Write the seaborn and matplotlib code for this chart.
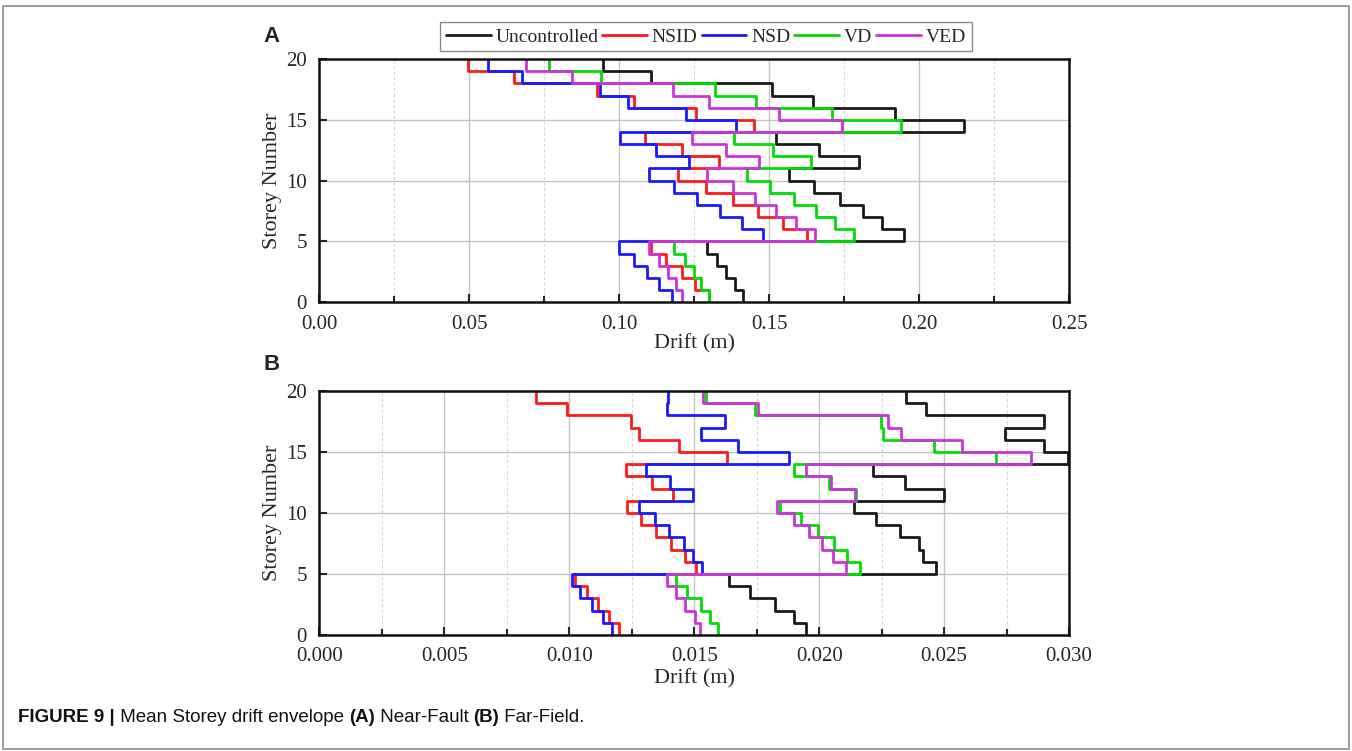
import matplotlib
matplotlib.use('Agg')
import matplotlib.pyplot as plt
import seaborn as sns
import numpy as np
import pandas as pd
from matplotlib.ticker import MultipleLocator, FormatStrFormatter
from matplotlib.patches import Rectangle

# storey numbers 1..20 (value of each storey drawn between storey-1 and storey)
storeys = np.arange(1, 21)
cases = ['Uncontrolled', 'NSID', 'NSD', 'VD', 'VED']
colors = ['#1a1a1a', '#ff1a1a', '#1a1aff', '#00dd00', '#cc33dd']

# Near-Fault drift (m), storey 1 -> 20
nf_uncontrolled = [0.1411, 0.1387, 0.1357, 0.1327, 0.1292, 0.1948, 0.1876, 0.1812, 0.1736, 0.1649,
                   0.1565, 0.1801, 0.1667, 0.1524, 0.2149, 0.1920, 0.1646, 0.1508, 0.1107, 0.0946]
nf_nsid = [0.1298, 0.1254, 0.1208, 0.1155, 0.1107, 0.1625, 0.1545, 0.1462, 0.1379, 0.1289,
           0.1195, 0.1331, 0.1210, 0.1086, 0.1449, 0.1256, 0.1048, 0.0925, 0.0649, 0.0496]
nf_nsd = [0.1176, 0.1131, 0.1092, 0.1048, 0.0999, 0.1479, 0.1408, 0.1336, 0.1260, 0.1182,
          0.1098, 0.1231, 0.1121, 0.1004, 0.1390, 0.1224, 0.1030, 0.0937, 0.0676, 0.0563]
nf_vd = [0.1300, 0.1274, 0.1248, 0.1218, 0.1182, 0.1782, 0.1720, 0.1655, 0.1583, 0.1504,
         0.1425, 0.1638, 0.1512, 0.1381, 0.1940, 0.1711, 0.1456, 0.1319, 0.0938, 0.0764]
nf_ved = [0.1208, 0.1188, 0.1161, 0.1131, 0.1098, 0.1652, 0.1590, 0.1524, 0.1454, 0.1379,
          0.1293, 0.1467, 0.1355, 0.1242, 0.1744, 0.1533, 0.1300, 0.1179, 0.0843, 0.0690]

# Far-Field drift (m), storey 1 -> 20
ff_uncontrolled = [0.01949, 0.01901, 0.01822, 0.01725, 0.01641, 0.02468, 0.02417, 0.02401, 0.02323, 0.02229,
                   0.02138, 0.02500, 0.02345, 0.02214, 0.02995, 0.02901, 0.02742, 0.02899, 0.02428, 0.02348]
ff_nsid = [0.01200, 0.01157, 0.01113, 0.01070, 0.01022, 0.01507, 0.01461, 0.01406, 0.01348, 0.01286,
           0.01232, 0.01413, 0.01329, 0.01225, 0.01633, 0.01439, 0.01278, 0.01246, 0.00990, 0.00867]
ff_nsd = [0.01170, 0.01133, 0.01090, 0.01041, 0.01010, 0.01533, 0.01496, 0.01457, 0.01399, 0.01341,
          0.01278, 0.01496, 0.01403, 0.01307, 0.01881, 0.01674, 0.01529, 0.01623, 0.01391, 0.01396]
ff_vd = [0.01597, 0.01565, 0.01526, 0.01471, 0.01428, 0.02162, 0.02113, 0.02061, 0.01997, 0.01928,
         0.01843, 0.02148, 0.02039, 0.01901, 0.02707, 0.02459, 0.02254, 0.02246, 0.01743, 0.01546]
ff_ved = [0.01522, 0.01504, 0.01464, 0.01428, 0.01391, 0.02109, 0.02054, 0.02012, 0.01959, 0.01899,
          0.01830, 0.02142, 0.02046, 0.01946, 0.02848, 0.02570, 0.02326, 0.02275, 0.01754, 0.01536]

near_fault = [nf_uncontrolled, nf_nsid, nf_nsd, nf_vd, nf_ved]
far_field = [ff_uncontrolled, ff_nsid, ff_nsd, ff_vd, ff_ved]


def envelope_frame(series):
    rows = []
    for case, vals in zip(cases, series):
        y = np.column_stack([storeys - 1, storeys]).ravel()
        x = np.repeat(vals, 2)
        rows.append(pd.DataFrame({'drift': x, 'storey': y, 'case': case}))
    return pd.concat(rows, ignore_index=True)


def style_axis(ax, xmax, major, fmt, xpad):
    ax.set_xlim(0, xmax)
    ax.set_ylim(0, 20)
    ax.xaxis.set_major_locator(MultipleLocator(major))
    ax.xaxis.set_minor_locator(MultipleLocator(major / 2))
    ax.xaxis.set_major_formatter(FormatStrFormatter(fmt))
    ax.yaxis.set_major_locator(MultipleLocator(5))
    ax.grid(which='major', axis='both', color='#c4c4c4', lw=1.0, ls='-')
    ax.grid(which='minor', axis='x', color='#d8d8d8', lw=0.8, ls=(0, (3, 2)))
    ax.set_axisbelow(True)
    ax.tick_params(which='both', direction='in', bottom=True, left=True, top=False, right=False,
                   labelsize=15, width=1.5)
    ax.tick_params(axis='x', which='major', pad=9)
    ax.tick_params(axis='y', which='major', pad=9)
    ax.tick_params(which='major', length=6)
    ax.tick_params(which='minor', length=4)
    for s in ax.spines.values():
        s.set_visible(True)
        s.set_color('#111111')
        s.set_linewidth(1.8)
    ax.set_xlabel('Drift (m)', fontsize=16, labelpad=xpad)
    ax.set_ylabel('Storey Number', fontsize=16, labelpad=3)


sns.set_style('white')
plt.rcParams['font.family'] = ['Liberation Serif', 'DejaVu Serif']

fig = plt.figure(figsize=(13.52, 7.51), dpi=100)
ax_a = fig.add_axes([0.2363, 0.5975, 0.5544, 0.3239])
ax_b = fig.add_axes([0.2363, 0.1545, 0.5544, 0.3249])

palette = dict(zip(cases, colors))
for ax, series in [(ax_a, near_fault), (ax_b, far_field)]:
    df = envelope_frame(series)
    sns.lineplot(data=df, x='drift', y='storey', hue='case', hue_order=cases, palette=palette,
                 sort=False, estimator=None, linewidth=2, legend=False, ax=ax)

style_axis(ax_a, 0.25, 0.05, '%.2f', 0)
style_axis(ax_b, 0.030, 0.005, '%.3f', 2)

fig.text(0.195, 0.952, 'A', fontsize=16, fontweight='bold', family=['Liberation Sans', 'DejaVu Sans'],
         va='center', ha='left')
fig.text(0.195, 0.514, 'B', fontsize=16, fontweight='bold', family=['Liberation Sans', 'DejaVu Sans'],
         va='center', ha='left')

handles = [plt.Line2D([], [], color=c, lw=2) for c in colors]
fig.legend(handles, cases, loc='center', bbox_to_anchor=(0.522, 0.951), ncol=5, fontsize=14,
           frameon=True, fancybox=False, edgecolor='#8a8a8a', framealpha=1,
           handlelength=2.3, handletextpad=0.25, columnspacing=0.2, borderpad=0.3,
           borderaxespad=0)

# caption with mixed bold pieces
cap_family = ['Liberation Sans Narrow', 'Liberation Sans', 'DejaVu Sans']
pieces = [('FIGURE 9 |', 'bold'), (' Mean Storey drift envelope ', 'normal'), ('(A)', 'bold'),
          (' Near-Fault ', 'normal'), ('(B)', 'bold'), (' Far-Field.', 'normal')]
fig.canvas.draw()
renderer = fig.canvas.get_renderer()
x = 18 / 1352
for txt, weight in pieces:
    t = fig.text(x, 0.038, txt, fontsize=13.5, fontweight=weight, family=cap_family, va='baseline', ha='left',
                 color='#111111')
    bb = t.get_window_extent(renderer)
    x = bb.x1 / fig.bbox.width

fig.add_artist(Rectangle((3 / 1352, 0.002), 1346 / 1352, 0.99, transform=fig.transFigure,
                         fill=False, edgecolor='#8c8c8c', lw=1.2))

fig.savefig('out.png', dpi=100)
